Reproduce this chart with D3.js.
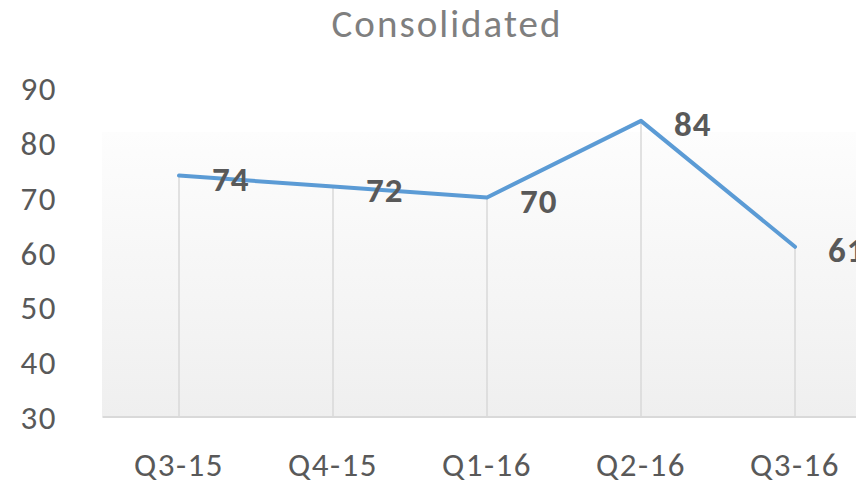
<!DOCTYPE html>
<html>
<head>
<meta charset="utf-8">
<script src="https://cdn.jsdelivr.net/npm/d3@7"></script>
<style>
  html, body { margin: 0; padding: 0; background: #fff; overflow: hidden; }
  svg { display: block; }
  text { font-family: Carlito, Calibri, Lato, sans-serif; }
</style>
</head>
<body>
<svg id="chart" width="856" height="485"></svg>
<script>
const title = "Consolidated";
const categories = ["Q3-15", "Q4-15", "Q1-16", "Q2-16", "Q3-16"];
const values = [74, 72, 70, 84, 61];
const yTicks = [30, 40, 50, 60, 70, 80, 90];

const W = 856, H = 485;
const svg = d3.select("#chart");

const x = d3.scaleBand().domain(categories).range([102, 872]).paddingInner(0).paddingOuter(0);
const cx = c => x(c) + x.bandwidth() / 2;
const y = d3.scaleLinear().domain([30, 90]).range([416.5, 88]);

// gradient background of plot area
const defs = svg.append("defs");
const grad = defs.append("linearGradient").attr("id", "bg").attr("x1", 0).attr("y1", 0).attr("x2", 0).attr("y2", 1);
grad.append("stop").attr("offset", "0%").attr("stop-color", "#fdfdfd");
grad.append("stop").attr("offset", "100%").attr("stop-color", "#efefef");

svg.append("rect")
  .attr("x", 102).attr("y", 132)
  .attr("width", 872 - 102).attr("height", y(30) - 132)
  .attr("fill", "url(#bg)");

// title
svg.append("text")
  .attr("x", 447).attr("y", 37)
  .attr("text-anchor", "middle")
  .attr("fill", "#7f7f7f")
  .attr("font-size", 39)
  .attr("letter-spacing", 2)
  .text(title);

// y axis labels
const yAxis = d3.axisLeft(y).tickValues(yTicks).tickSize(0).tickPadding(0);
const ya = svg.append("g").attr("transform", "translate(57,0)").call(yAxis);
ya.select(".domain").remove();
ya.selectAll("text")
  .attr("fill", "#595959")
  .attr("font-size", 33)
  .attr("letter-spacing", 1.5)
  .attr("font-family", "Carlito, Calibri, Lato, sans-serif")
  .attr("dy", "0.36em");

// drop lines
svg.append("g").selectAll("line")
  .data(categories)
  .join("line")
  .attr("x1", (d) => cx(d)).attr("x2", (d) => cx(d))
  .attr("y1", (d, i) => y(values[i])).attr("y2", y(30))
  .attr("stroke", "#d9d9d9").attr("stroke-width", 1.5);

// x axis line
const xAxis = d3.axisBottom(x).tickSize(0).tickPadding(0);
const xa = svg.append("g").attr("transform", `translate(0,${y(30)})`).call(xAxis);
xa.select(".domain").attr("stroke", "#d9d9d9").attr("stroke-width", 2);
xa.selectAll("text")
  .attr("fill", "#595959")
  .attr("font-size", 33)
  .attr("letter-spacing", 1.5)
  .attr("font-family", "Carlito, Calibri, Lato, sans-serif")
  .attr("dy", 0)
  .attr("y", 476 - y(30));

// line
const line = d3.line().x((d, i) => cx(categories[i])).y(d => y(d));
svg.append("path")
  .datum(values)
  .attr("d", line)
  .attr("fill", "none")
  .attr("stroke", "#5b9bd5")
  .attr("stroke-width", 4)
  .attr("stroke-linejoin", "round")
  .attr("stroke-linecap", "round");

// data labels
svg.append("g").selectAll("text")
  .data(values)
  .join("text")
  .attr("x", (d, i) => cx(categories[i]) + 33)
  .attr("y", d => y(d) + 3)
  .attr("dy", "0.36em")
  .attr("fill", "#595959")
  .attr("font-size", 35)
  .attr("letter-spacing", 1)
  .attr("font-weight", "bold")
  .text(d => d);
</script>
</body>
</html>
